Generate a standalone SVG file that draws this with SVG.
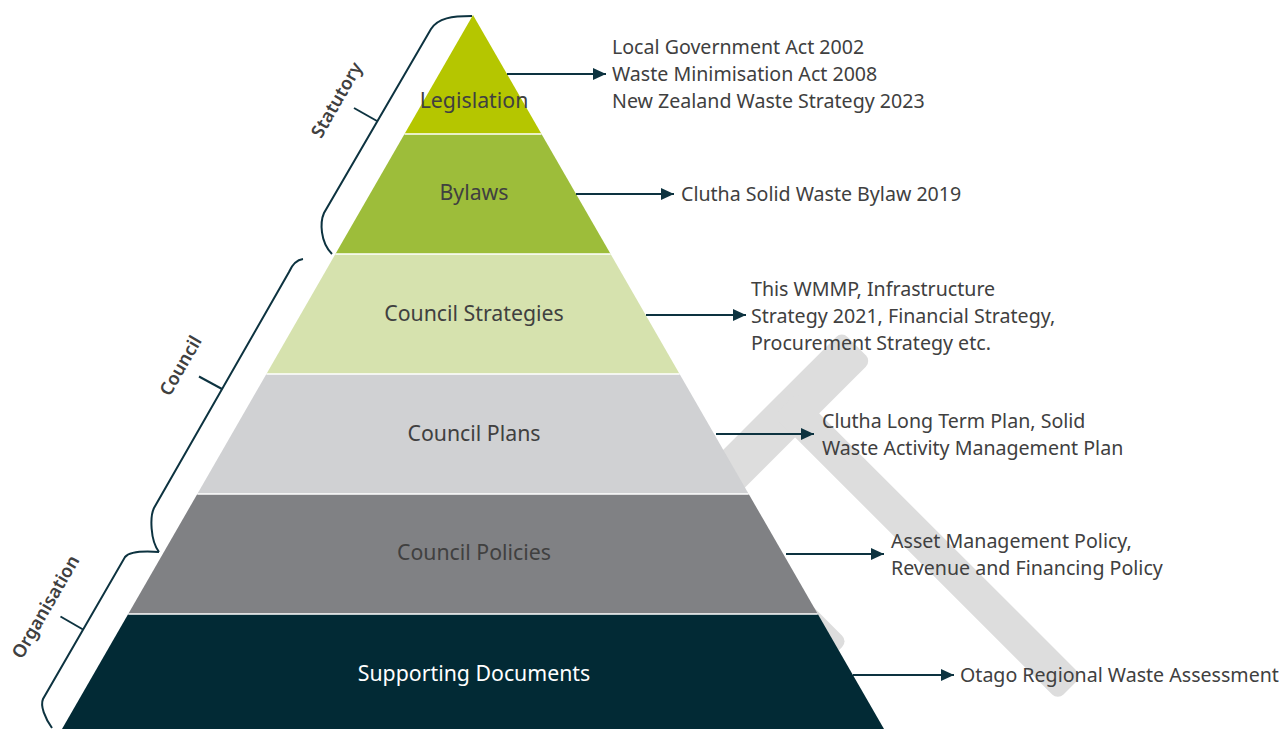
<svg xmlns="http://www.w3.org/2000/svg" width="1279" height="729" viewBox="0 0 1279 729">
<defs>
<style>
.lbl{font-family:"Noto Sans","Open Sans","Liberation Sans",sans-serif;font-size:21.3px;fill:#404040;text-anchor:middle}
.txt{font-family:"Noto Sans","Open Sans","Liberation Sans",sans-serif;font-size:19.6px;fill:#404040}
.grp{font-family:"Noto Sans","Open Sans","Liberation Sans",sans-serif;font-size:18.2px;font-weight:600;fill:#404040;text-anchor:middle}
.brace{fill:none;stroke:#0D3340;stroke-width:2}
.conn{fill:none;stroke:#0D3340;stroke-width:2}
.sep{stroke:#ffffff;stroke-width:1.5}
.wm{fill:#DDDDDD}
</style>
<marker id="arr" markerUnits="userSpaceOnUse" markerWidth="14" markerHeight="12" refX="13" refY="6" orient="auto">
<path d="M0,0 L13,6 L0,12 Z" fill="#0D3340"/>
</marker>
</defs>
<rect width="1279" height="729" fill="#ffffff"/>
<g id="watermark">
<rect class="wm" x="829.5" y="-361" width="42" height="225" rx="8" transform="rotate(45)"/>
<rect class="wm" x="841" y="-287" width="402" height="34" rx="8" transform="rotate(45)"/>
<rect class="wm" x="919" y="-146" width="134" height="33" rx="8" transform="rotate(45)"/>
</g>
<g id="layer-supporting">
<polygon points="128.2,614 817.8,614 884,729 62,729" fill="#022A35"/>
<text class="lbl" x="474" y="681" style="fill:#ffffff">Supporting Documents</text>
</g>
<g id="layer-policies">
<polygon points="197.3,494 748.7,494 817.8,614 128.2,614" fill="#808184"/>
<text class="lbl" x="474" y="560">Council Policies</text>
</g>
<g id="layer-plans">
<polygon points="266.4,374 679.6,374 748.7,494 197.3,494" fill="#D0D1D3"/>
<text class="lbl" x="474" y="441">Council Plans</text>
</g>
<g id="layer-strategies">
<polygon points="335.4,254 610.6,254 679.6,374 266.4,374" fill="#D6E2AE"/>
<text class="lbl" x="474" y="321">Council Strategies</text>
</g>
<g id="layer-bylaws">
<polygon points="404.5,134 541.5,134 610.6,254 335.4,254" fill="#9DBD3A"/>
<text class="lbl" x="474" y="200">Bylaws</text>
</g>
<g id="layer-legislation">
<polygon points="473,15 541.5,134 404.5,134" fill="#B5C600"/>
<text class="lbl" x="474" y="108">Legislation</text>
</g>
<g id="separators">
<line class="sep" x1="404.5" y1="134" x2="541.5" y2="134"/>
<line class="sep" x1="335.4" y1="254" x2="610.6" y2="254"/>
<line class="sep" x1="266.4" y1="374" x2="679.6" y2="374"/>
<line class="sep" x1="197.3" y1="494" x2="748.7" y2="494"/>
<line class="sep" x1="128.2" y1="614" x2="817.8" y2="614"/>
</g>
<g id="brace-statutory">
<path class="brace" d="M472,16 C452,16 438,18 431,29 L324,213 C320,222 320,242 332,254"/>
<line class="brace" x1="354" y1="108" x2="377" y2="121"/>
<text class="grp" transform="translate(342,103) rotate(-60)">Statutory</text>
</g>
<g id="brace-council">
<path class="brace" d="M303,259 C296,260 292,265 289,272 L154,508 C150,516 150,540 159,552"/>
<line class="brace" x1="199" y1="376.5" x2="222" y2="389"/>
<text class="grp" transform="translate(186,369) rotate(-60)">Council</text>
</g>
<g id="brace-organisation">
<path class="brace" d="M159,552 C145,551 130,551 125,557 L43,699 C40,706 45,718 52,728"/>
<line class="brace" x1="60.5" y1="616.5" x2="83" y2="629.5"/>
<text class="grp" transform="translate(51,610) rotate(-60)">Organisation</text>
</g>
<g id="connectors">
<line class="conn" x1="507" y1="74" x2="606" y2="74" marker-end="url(#arr)"/>
<line class="conn" x1="576" y1="194" x2="674" y2="194" marker-end="url(#arr)"/>
<line class="conn" x1="646" y1="315" x2="746" y2="315" marker-end="url(#arr)"/>
<line class="conn" x1="716" y1="434" x2="814" y2="434" marker-end="url(#arr)"/>
<line class="conn" x1="786" y1="554" x2="884" y2="554" marker-end="url(#arr)"/>
<line class="conn" x1="853" y1="675" x2="954" y2="675" marker-end="url(#arr)"/>
</g>
<g id="note-legislation">
<text class="txt" x="612" y="54">Local Government Act 2002</text>
<text class="txt" x="612" y="81">Waste Minimisation Act 2008</text>
<text class="txt" x="612" y="108">New Zealand Waste Strategy 2023</text>
</g>
<g id="note-bylaws">
<text class="txt" x="681" y="201">Clutha Solid Waste Bylaw 2019</text>
</g>
<g id="note-strategies">
<text class="txt" x="751" y="296">This WMMP, Infrastructure</text>
<text class="txt" x="751" y="323">Strategy 2021, Financial Strategy,</text>
<text class="txt" x="751" y="350">Procurement Strategy etc.</text>
</g>
<g id="note-plans">
<text class="txt" x="822" y="428">Clutha Long Term Plan, Solid</text>
<text class="txt" x="822" y="455">Waste Activity Management Plan</text>
</g>
<g id="note-policies">
<text class="txt" x="891" y="548">Asset Management Policy,</text>
<text class="txt" x="891" y="575">Revenue and Financing Policy</text>
</g>
<g id="note-supporting">
<text class="txt" x="960" y="682">Otago Regional Waste Assessment</text>
</g>
</svg>
